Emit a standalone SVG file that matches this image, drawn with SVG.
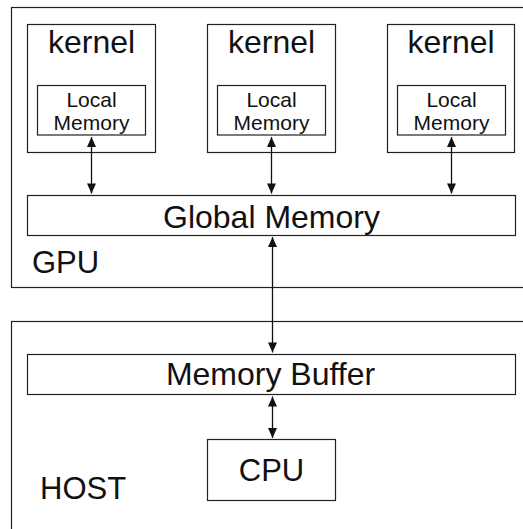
<svg xmlns="http://www.w3.org/2000/svg" width="523" height="529" viewBox="0 0 523 529">
<style>
.box{fill:#fff;stroke:#222;stroke-width:1.2}
.t{font-family:"Liberation Sans",Arial,Helvetica,sans-serif;fill:#111;text-anchor:middle}
.big{font-size:31px}
.wide{font-size:32px}
.small{font-size:21px}
.left{text-anchor:start}
.con{stroke:#111;stroke-width:1.3;fill:none;marker-start:url(#ah);marker-end:url(#ah)}
</style>
<defs>
<marker id="ah" markerUnits="userSpaceOnUse" markerWidth="12" markerHeight="12" viewBox="0 0 12 12" refX="11" refY="6" orient="auto-start-reverse">
<path d="M1,1.5 L11,6 L1,10.5 Z" fill="#111"/>
</marker>
</defs>
<g id="gpu">
<rect class="box" x="11.5" y="7.5" width="530" height="280"/>
<text class="t big left" x="32" y="272.5">GPU</text>
</g>
<g id="host">
<rect class="box" x="11.5" y="321.5" width="530" height="230"/>
<text class="t big left" x="40" y="498.5">HOST</text>
</g>
<g id="kernel1">
<rect class="box" x="27.5" y="24.5" width="128" height="128"/>
<text class="t wide" x="91.5" y="53">kernel</text>
</g>
<g id="local1">
<rect class="box" x="37.5" y="85.5" width="108" height="49.5"/>
<text class="t small" x="91.5" y="107">Local</text>
<text class="t small" x="91.5" y="130">Memory</text>
</g>
<g id="kernel2">
<rect class="box" x="207.5" y="24.5" width="128" height="128"/>
<text class="t wide" x="271.5" y="53">kernel</text>
</g>
<g id="local2">
<rect class="box" x="217.5" y="85.5" width="108" height="49.5"/>
<text class="t small" x="271.5" y="107">Local</text>
<text class="t small" x="271.5" y="130">Memory</text>
</g>
<g id="kernel3">
<rect class="box" x="387.5" y="24.5" width="127" height="128"/>
<text class="t wide" x="451" y="53">kernel</text>
</g>
<g id="local3">
<rect class="box" x="397.5" y="85.5" width="108" height="49.5"/>
<text class="t small" x="451.5" y="107">Local</text>
<text class="t small" x="451.5" y="130">Memory</text>
</g>
<g id="global">
<rect class="box" x="27.5" y="195.5" width="488" height="40"/>
<text class="t wide" x="271.5" y="227.5">Global Memory</text>
</g>
<g id="buffer">
<rect class="box" x="27.5" y="354.5" width="488" height="40"/>
<text class="t wide" x="270.5" y="385">Memory Buffer</text>
</g>
<g id="cpu">
<rect class="box" x="207.5" y="439.5" width="128" height="61"/>
<text class="t big" x="271.5" y="480.5">CPU</text>
</g>
<g id="connectors">
<line class="con" x1="91.5" y1="137" x2="91.5" y2="193.5"/>
<line class="con" x1="271.5" y1="137" x2="271.5" y2="193.5"/>
<line class="con" x1="451.5" y1="137" x2="451.5" y2="193.5"/>
<line class="con" x1="272.5" y1="237" x2="272.5" y2="352.5"/>
<line class="con" x1="272.5" y1="396.5" x2="272.5" y2="438"/>
</g>
</svg>
